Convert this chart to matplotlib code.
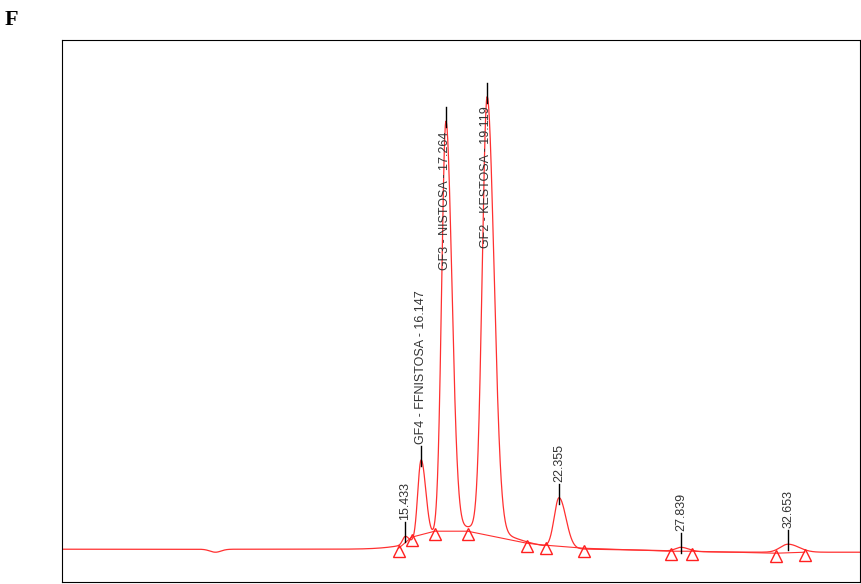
import numpy as np
import matplotlib.pyplot as plt

# peaks (time in min, height in px above baseline)
peak_times = [15.433, 16.147, 17.264, 19.119, 22.355, 27.839, 32.653]
peak_heights = [8, 80, 410, 432, 50, 4, 8]
peak_sigmas = [0.12, 0.15, 0.19, 0.22, 0.22, 0.25, 0.35]
peak_labels = ['15.433', 'GF4 - FFNISTOSA - 16.147', 'GF3 - NISTOSA - 17.264',
               'GF2 - KESTOSA - 19.119', '22.355', '27.839', '32.653']
label_inside = [False, False, True, True, False, False, False]

# baseline markers (triangles)
marker_times = [15.14, 15.72, 16.76, 18.24, 20.90, 21.75, 23.46, 27.37, 28.32, 32.10, 33.40]
marker_levels = [1, 12, 18, 18, 6, 4, 1, -2, -2, -4, -3]

# broad background hump under the main peaks
hump_center, hump_height, hump_sigma = 18.4, 22, 1.7

t = np.linspace(0, 35.9, 4000)
y = hump_height * np.exp(-0.5 * ((t - hump_center) / hump_sigma) ** 2)
y -= 3 * np.exp(-0.5 * ((t - 6.9) / 0.25) ** 2)
y -= 3 / (1 + np.exp(-(t - 27)))
for pt, ph, ps in zip(peak_times, peak_heights, peak_sigmas):
    left = np.exp(-0.5 * ((t - pt) / ps) ** 2)
    right = np.exp(-0.5 * ((t - pt) / (ps * 1.4)) ** 2)
    y += ph * np.where(t < pt, left, right)

fig = plt.figure(figsize=(8.62, 5.84), dpi=100)
ax = fig.add_axes([0.072, 0.003, 0.926, 0.929])
ax.plot(t, y, color='#ff3030', lw=0.9)
ax.plot(marker_times, marker_levels, color='#ff3030', lw=0.8)
ax.plot(marker_times, [m - 3 for m in marker_levels], ls='none', marker='^',
        ms=8, mfc='none', mec='#ff2020', mew=1.0)

for pt, lab, inside in zip(peak_times, peak_labels, label_inside):
    top = np.interp(pt, t, y)
    ax.plot([pt, pt], [top - 6, top + 14], color='black', lw=1.0)
    if inside:
        ax.text(pt - 0.05, top - 10, lab, rotation=90, ha='center', va='top',
                fontsize=9, color='#333333', family='Liberation Sans')
    else:
        ax.text(pt, top + 16, lab, rotation=90, ha='center', va='bottom',
                fontsize=9, color='#333333', family='Liberation Sans')

ax.set_xlim(0, 35.9)
ax.set_ylim(-33, 509)
ax.set_xticks([])
ax.set_yticks([])
for s in ax.spines.values():
    s.set_linewidth(0.8)

fig.text(0.005, 0.965, 'F', fontsize=16, fontweight='bold', family='Liberation Serif',
         va='center')

fig.savefig('out.png', dpi=100)
